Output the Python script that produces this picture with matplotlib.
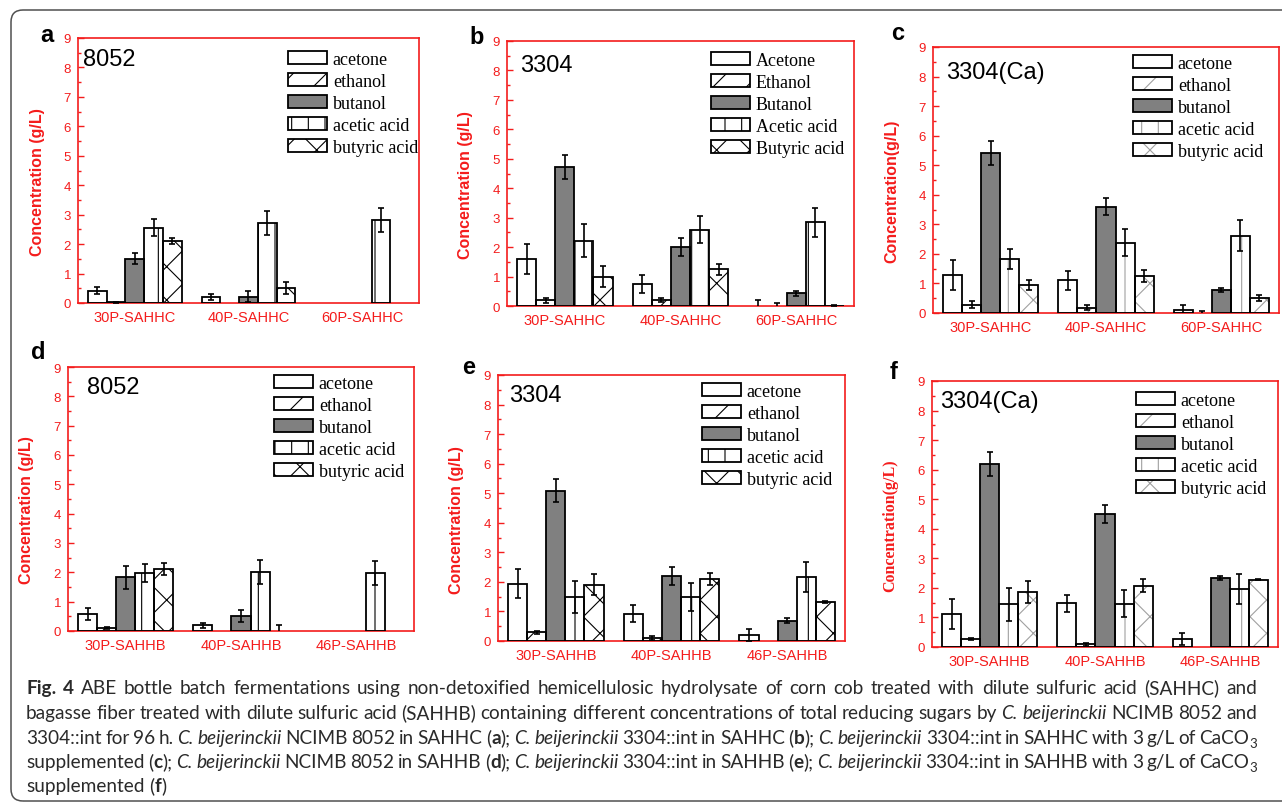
import re
import numpy as np
import matplotlib as mpl
import matplotlib.pyplot as plt
from matplotlib.patches import Patch, FancyBboxPatch
from matplotlib.transforms import IdentityTransform

# fermentation products, in plotting / legend order
products = ['acetone', 'ethanol', 'butanol', 'acetic acid', 'butyric acid']
products_cap = ['Acetone', 'Ethanol', 'Butanol', 'Acetic acid', 'Butyric acid']

groups_hc = ['30P-SAHHC', '40P-SAHHC', '60P-SAHHC']
groups_hb = ['30P-SAHHB', '40P-SAHHB', '46P-SAHHB']

# concentrations (g/L): one row per product, one column per group
a_mean = [[0.42, 0.20, 0.0], [0.03, 0.0, 0.0], [1.51, 0.22, 0.0], [2.56, 2.72, 2.82], [2.11, 0.51, 0.0]]
a_err = [[0.12, 0.10, 0.0], [0.02, 0.0, 0.0], [0.20, 0.20, 0.0], [0.30, 0.41, 0.41], [0.10, 0.20, 0.0]]

b_mean = [[1.59, 0.74, 0.0], [0.19, 0.19, 0.0], [4.73, 2.00, 0.43], [2.22, 2.59, 2.84], [1.00, 1.25, 0.01]]
b_err = [[0.50, 0.31, 0.20], [0.09, 0.07, 0.10], [0.41, 0.30, 0.08], [0.55, 0.45, 0.50], [0.37, 0.19, 0.01]]

c_mean = [[1.29, 1.10, 0.10], [0.28, 0.18, 0.0], [5.41, 3.60, 0.78], [1.83, 2.38, 2.62], [0.96, 1.24, 0.50]]
c_err = [[0.51, 0.33, 0.18], [0.12, 0.08, 0.08], [0.40, 0.30, 0.08], [0.35, 0.46, 0.51], [0.17, 0.20, 0.10]]

d_mean = [[0.58, 0.19, 0.0], [0.10, 0.0, 0.0], [1.83, 0.50, 0.0], [1.97, 2.00, 1.98], [2.11, 0.0, 0.0]]
d_err = [[0.20, 0.09, 0.0], [0.04, 0.0, 0.0], [0.40, 0.20, 0.0], [0.30, 0.41, 0.40], [0.20, 0.20, 0.0]]

e_mean = [[1.93, 0.93, 0.20], [0.29, 0.10, 0.0], [5.09, 2.19, 0.69], [1.48, 1.48, 2.17], [1.90, 2.10, 1.33]]
e_err = [[0.49, 0.29, 0.20], [0.06, 0.06, 0.0], [0.40, 0.30, 0.08], [0.54, 0.47, 0.51], [0.36, 0.20, 0.03]]

f_mean = [[1.12, 1.48, 0.27], [0.28, 0.09, 0.0], [6.20, 4.49, 2.33], [1.44, 1.47, 1.97], [1.87, 2.08, 2.28]]
f_err = [[0.50, 0.29, 0.20], [0.04, 0.05, 0.0], [0.41, 0.30, 0.07], [0.55, 0.45, 0.50], [0.37, 0.21, 0.02]]

W, H = 1282, 812
RED = '#f41c1c'
fills = ['white', 'white', '#808080', 'white', 'white']
hatches = [None, '/', None, '|', 'x']

plt.rcParams['hatch.linewidth'] = 0.8

fig = plt.figure(figsize=(W / 100, H / 100), dpi=100)


def fx(x):
    return x / W


def fy(y):
    return 1 - y / H


# outer rounded frame
fig.patches.append(FancyBboxPatch((11, 10), 1320, 791, boxstyle='round,pad=0,rounding_size=12',
                                  transform=IdentityTransform(), fill=False,
                                  edgecolor='#505050', linewidth=1.1))

panels = [
    # letter, axes box (l, t, r, b) px, mean, err, groups, labels, strain, ylabel, serif, hatch colour,
    # letter pos, legend anchor, strain text pos
    ('a', (78, 39, 419, 304), a_mean, a_err, groups_hc, products, '8052', 'Concentration (g/L)', False, 'black',
     (40, 35), (288, 52), (0.015, 0.92)),
    ('b', (507, 42, 854, 307), b_mean, b_err, groups_hc, products_cap, '3304', 'Concentration (g/L)', False, 'black',
     (469, 38), (711, 53), (0.037, 0.91)),
    ('c', (933, 48, 1279, 314), c_mean, c_err, groups_hc, products, '3304(Ca)', 'Concentration(g/L)', False, '#a0a0a0',
     (891, 34), (1133, 56), (0.038, 0.906)),
    ('d', (68, 368, 414, 632), d_mean, d_err, groups_hb, products, '8052', 'Concentration (g/L)', False, 'black',
     (31, 353), (274, 376), (0.055, 0.924)),
    ('e', (498, 376, 845, 642), e_mean, e_err, groups_hb, products, '3304', 'Concentration (g/L)', False, 'black',
     (462, 368), (702, 384), (0.032, 0.925)),
    ('f', (932, 382, 1278, 648), f_mean, f_err, groups_hb, products, '3304(Ca)', 'Concentration(g/L)', True, '#a0a0a0',
     (890, 373), (1136, 393), (0.023, 0.925)),
]

x = np.arange(1, 4)
w = 0.165

for (letter, box, mean, err, groups, labels, strain, ylab, serif, hcol,
     lpos, legpos, spos) in panels:
    l, t, r, b = box
    ax = fig.add_axes([fx(l), fy(b), (r - l) / W, (b - t) / H])
    handles = []
    for i in range(5):
        xi = x + (i - 2) * w
        vals = np.array(mean[i])
        errs = np.array(err[i])
        nz = vals > 0
        ax.bar(xi[nz], vals[nz], w, color=fills[i], edgecolor=hcol, hatch=hatches[i], linewidth=0, zorder=2)
        ax.bar(xi[nz], vals[nz], w, color='none', edgecolor='black', linewidth=1.3, zorder=3)
        m = errs > 0
        ax.errorbar(xi[m], vals[m], yerr=errs[m], fmt='none', ecolor='black',
                    elinewidth=1.2, capsize=2.5, capthick=1.2, zorder=4)
        handles.append((Patch(facecolor=fills[i], edgecolor=hcol, hatch=hatches[i], linewidth=0),
                        Patch(facecolor='none', edgecolor='black', linewidth=1.3)))

    ax.set_xlim(0.5, 3.5)
    ax.set_ylim(0, 9)
    ax.set_xticks(x)
    ax.set_xticklabels(groups, fontsize=10.5, color=RED, family='Liberation Sans')
    ax.tick_params(axis='x', length=0, pad=5)
    ax.set_yticks(range(10))
    ax.set_yticks(np.arange(0.5, 9, 1), minor=True)
    ax.tick_params(axis='y', which='both', direction='in', colors=RED, labelsize=9.5, pad=5)
    ax.tick_params(axis='y', which='major', length=4.5, width=1)
    ax.tick_params(axis='y', which='minor', length=2.5, width=1)
    for lab in ax.get_yticklabels():
        lab.set_family('Liberation Sans')
    for sp in ax.spines.values():
        sp.set_color(RED)
        sp.set_linewidth(1.2)

    ax.set_ylabel(ylab, color=RED, fontsize=11.5, fontweight='bold',
                  family='Liberation Serif' if serif else 'Liberation Sans')
    ax.yaxis.set_label_coords(-0.098, 0.46)

    ax.text(spos[0], spos[1], strain, transform=ax.transAxes, fontsize=17,
            family='Liberation Sans', va='center', ha='left')

    ax.legend(handles, labels, loc='upper left', bbox_to_anchor=(fx(legpos[0]), fy(legpos[1])),
              bbox_transform=fig.transFigure, frameon=False, borderpad=0, borderaxespad=0,
              prop={'family': 'Liberation Serif', 'size': 13},
              handlelength=2.15, handleheight=0.72, handletextpad=0.33, labelspacing=0.28)

    fig.text(fx(lpos[0]), fy(lpos[1]), letter, fontsize=17, fontweight='bold',
             family='Liberation Sans', va='center', ha='left')

# caption, justified word by word (<i>/<b> mark italic / bold runs)
CB = '<i>C.</i> <i>beijerinckii</i>'
caption_lines = [
    '<b>Fig.</b> <b>4</b>  ABE bottle batch fermentations using non-detoxified hemicellulosic hydrolysate '
    'of corn cob treated with dilute sulfuric acid (SAHHC) and',
    'bagasse fiber treated with dilute sulfuric acid (SAHHB) containing different concentrations of total '
    'reducing sugars by ' + CB + ' NCIMB 8052 and',
    '3304::int for 96 h. ' + CB + ' NCIMB 8052 in SAHHC (<b>a</b>); ' + CB + ' 3304::int in SAHHC (<b>b</b>); '
    + CB + ' 3304::int in SAHHC with 3 g/L of CaCO<s>3</s>',
    'supplemented (<b>c</b>); ' + CB + ' NCIMB 8052 in SAHHB (<b>d</b>); ' + CB
    + ' 3304::int in SAHHB (<b>e</b>); ' + CB + ' 3304::int in SAHHB with 3 g/L of CaCO<s>3</s>',
    'supplemented (<b>f</b>)',
]
caption_base = [694, 719, 744, 768, 792]
cap_left, cap_right = 26, 1257
cap_size = 13.7
renderer = fig.canvas.get_renderer()
# style -> (text kwargs, font scale, baseline shift in px)
style_kw = {'n': ({}, 1.0, 0), 'i': ({'style': 'italic'}, 1.0, 0),
            'b': ({'weight': 'bold'}, 1.0, 0), 's': ({}, 0.7, 4)}


def word_runs(word):
    runs, style = [], 'n'
    for p in re.split(r'(</?[ibs]>)', word):
        if p in ('<i>', '<b>', '<s>'):
            style = p[1]
        elif p in ('</i>', '</b>', '</s>'):
            style = 'n'
        elif p:
            runs.append((p, style))
    return runs


for k, (line, yb) in enumerate(zip(caption_lines, caption_base)):
    words = []
    for word in line.split():
        texts = []
        for s, st in word_runs(word):
            kw, scale, shift = style_kw[st]
            texts.append(fig.text(0, fy(yb + shift), s, fontsize=cap_size * scale, family='Lato',
                                  color='#2a2a2a', va='baseline', ha='left', **kw))
        widths = [t.get_window_extent(renderer).width for t in texts]
        words.append((texts, widths))
    total = sum(sum(ws) for _, ws in words)
    if k < len(caption_lines) - 1:
        gap = (cap_right - cap_left - total) / (len(words) - 1)
    else:
        gap = 0.26 * cap_size * 100 / 72
    xpos = cap_left
    for texts, widths in words:
        for t, wd in zip(texts, widths):
            t.set_x(fx(xpos))
            xpos += wd
        xpos += gap

fig.savefig('out.png', dpi=100)
